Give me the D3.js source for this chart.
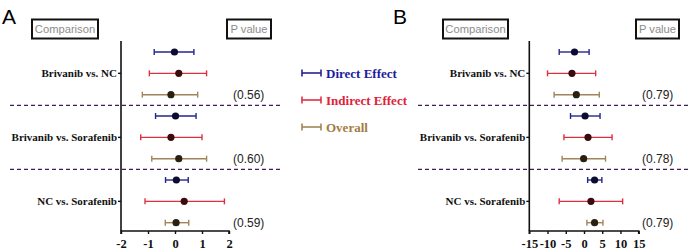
<!DOCTYPE html>
<html lang="en">
<head>
    <meta charset="UTF-8">
    <title>Forest plot</title>
    <style>
        body { margin: 0; background: #fff; }
        svg { display: block; }
    </style>
</head>
<body>
    <script src="https://d3js.org/d3.v7.min.js"></script>
    <script>
        // data
        const comparisons = ["Brivanib vs. NC", "Brivanib vs. Sorafenib", "NC vs. Sorafenib"];
        const effects = ["Direct Effect", "Indirect Effect", "Overall"];

        // [point, low, high] per comparison, per effect
        const panelA = [
            [[-0.02, -0.77, 0.70], [0.14, -0.95, 1.17], [-0.15, -1.21, 0.84]],
            [[0.02, -0.72, 0.78], [-0.15, -1.27, 1.00], [0.14, -0.86, 1.17]],
            [[0.05, -0.35, 0.49], [0.34, -1.11, 1.83], [0.04, -0.36, 0.51]]
        ];
        const panelB = [
            [[-2.6, -6.8, 1.4], [-3.3, -10.0, 3.2], [-2.1, -8.2, 4.2]],
            [[0.3, -3.7, 4.4], [1.1, -5.5, 7.7], [-0.1, -6.0, 5.9]],
            [[2.9, 1.0, 4.9], [1.9, -6.8, 10.6], [2.9, 0.8, 5.2]]
        ];
        const pA = ["(0.56)", "(0.60)", "(0.59)"];
        const pB = ["(0.79)", "(0.78)", "(0.79)"];
        const ticksA = [-2, -1, 0, 1, 2];
        const ticksB = [-15, -10, -5, 0, 5, 10, 15];

        const barColor = ["#25258f", "#df3040", "#a3845a"];
        const dotColor = ["#0c0c30", "#3a0c10", "#2a2012"];
        const legendColor = ["#1c1c9e", "#e0223a", "#a47c44"];
        const dashColor = "#43175f";

        const W = 691, H = 252;
        const svg = d3.select("body").append("svg")
            .attr("width", W)
            .attr("height", H);

        const serif = "'Liberation Serif', 'Times New Roman', serif";
        const sans = "'Liberation Sans', Arial, sans-serif";

        // row positions: 9 evenly spaced rows
        const y = d3.scaleLinear().domain([0, 8]).range([52, 222.7]);

        const drawPanel = (cfg) => {
            const g = svg.append("g");
            const x = d3.scaleLinear().domain(cfg.domain).range(cfg.range);
            const x0 = cfg.range[0];

            // panel letter
            g.append("text")
                .attr("x", cfg.letterX).attr("y", 24)
                .attr("font-family", sans).attr("font-size", 21)
                .text(cfg.letter);

            // header boxes
            const box = (bx, bw, label) => {
                g.append("rect")
                    .attr("x", bx).attr("y", 19.5)
                    .attr("width", bw).attr("height", 19)
                    .attr("fill", "none").attr("stroke", "#111").attr("stroke-width", 2);
                g.append("text")
                    .attr("x", bx + bw / 2).attr("y", 33.3)
                    .attr("text-anchor", "middle")
                    .attr("font-family", sans).attr("font-size", 11.2)
                    .attr("fill", "#8c8c8c")
                    .text(label);
            };
            box(cfg.compBox[0], cfg.compBox[1], "Comparison");
            box(cfg.pBox[0], cfg.pBox[1], "P value");

            // dashed separators
            [2.5, 5.5].forEach(r => {
                g.append("line")
                    .attr("x1", cfg.dash[0]).attr("x2", cfg.dash[1])
                    .attr("y1", y(r)).attr("y2", y(r))
                    .attr("stroke", dashColor).attr("stroke-width", 1.4)
                    .attr("stroke-dasharray", "4,3");
            });

            // axes
            const xAxis = d3.axisBottom(x).tickValues(cfg.ticks).tickSize(3).tickFormat(d3.format("d"));
            const ax = g.append("g").attr("transform", "translate(0,231)").call(xAxis);
            ax.select(".domain").attr("stroke", "#111").attr("stroke-width", 1.6)
                .attr("d", `M${cfg.range[0]},3V0H${cfg.range[1]}V3`);
            ax.selectAll(".tick line").attr("stroke", "#111").attr("stroke-width", 1.4);
            ax.selectAll(".tick text")
                .attr("font-family", serif).attr("font-weight", "bold")
                .attr("font-size", 12.5).attr("fill", "#111")
                .attr("dy", "0.85em")
                .text(d => d < 0 ? "-" + Math.abs(d) : d);

            g.append("line")
                .attr("x1", x0).attr("x2", x0)
                .attr("y1", 41).attr("y2", 231)
                .attr("stroke", "#111").attr("stroke-width", 1.6);

            // comparison labels
            comparisons.forEach((c, i) => {
                const yy = y(i * 3 + 1);
                g.append("line")
                    .attr("x1", x0 - 3).attr("x2", x0)
                    .attr("y1", yy).attr("y2", yy)
                    .attr("stroke", "#111").attr("stroke-width", 1.4);
                g.append("text")
                    .attr("x", x0 - 4).attr("y", yy + 4)
                    .attr("text-anchor", "end")
                    .attr("font-family", serif).attr("font-weight", "bold")
                    .attr("font-size", 11).attr("fill", "#111")
                    .text(c);
            });

            // error bars
            cfg.data.forEach((grp, i) => {
                grp.forEach((d, k) => {
                    const yy = y(i * 3 + k);
                    const eb = g.append("g");
                    eb.append("line")
                        .attr("x1", x(d[1])).attr("x2", x(d[2]))
                        .attr("y1", yy).attr("y2", yy)
                        .attr("stroke", barColor[k]).attr("stroke-width", 1.4);
                    [d[1], d[2]].forEach(v => {
                        eb.append("line")
                            .attr("x1", x(v)).attr("x2", x(v))
                            .attr("y1", yy - 3).attr("y2", yy + 3)
                            .attr("stroke", barColor[k]).attr("stroke-width", 1.4);
                    });
                    eb.append("circle")
                        .attr("cx", x(d[0])).attr("cy", yy).attr("r", 3.6)
                        .attr("fill", dotColor[k]);
                });
                // p value
                g.append("text")
                    .attr("x", cfg.pX).attr("y", y(i * 3 + 2) + 4)
                    .attr("font-family", sans).attr("font-size", 12)
                    .attr("fill", "#222")
                    .text(cfg.p[i]);
            });
        };

        drawPanel({
            letter: "A", letterX: 2,
            domain: [-2, 2], range: [121, 229], ticks: ticksA,
            data: panelA, p: pA, pX: 233,
            compBox: [32, 66], pBox: [227, 44],
            dash: [10, 283]
        });

        drawPanel({
            letter: "B", letterX: 393,
            domain: [-15, 15], range: [529.3, 638.7], ticks: ticksB,
            data: panelB, p: pB, pX: 642,
            compBox: [443, 65], pBox: [636, 43],
            dash: [418, 691]
        });

        // legend
        const legend = svg.append("g");
        effects.forEach((e, k) => {
            const ly = 73 + k * 27;
            legend.append("line")
                .attr("x1", 302).attr("x2", 321).attr("y1", ly).attr("y2", ly)
                .attr("stroke", barColor[k]).attr("stroke-width", 1.6);
            [302, 321].forEach(lx => {
                legend.append("line")
                    .attr("x1", lx).attr("x2", lx).attr("y1", ly - 3.5).attr("y2", ly + 3.5)
                    .attr("stroke", barColor[k]).attr("stroke-width", 1.6);
            });
            legend.append("text")
                .attr("x", 326).attr("y", ly + 4.5)
                .attr("font-family", serif).attr("font-weight", "bold")
                .attr("font-size", 13).attr("fill", legendColor[k])
                .text(e);
        });
    </script>
</body>
</html>
